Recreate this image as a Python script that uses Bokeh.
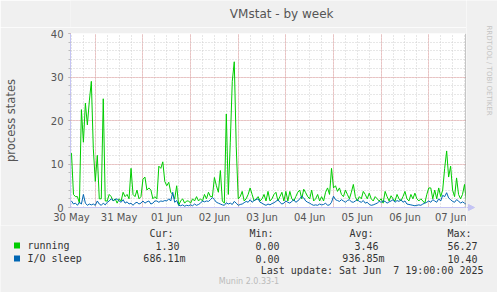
import math
from bokeh.plotting import figure
from bokeh.layouts import column, row
from bokeh.models import Range1d, FixedTicker, Span
from bokeh.core.properties import value
from bokeh.embed import file_html
from bokeh.resources import INLINE

# ---- data (hourly samples, hour 0 = 30 May label position) ----
hours = list(range(200))
running = [
    12.5, 3.0, 2.5, 2.5, 1.0, 22.5, 15.0, 24.0, 19.0, 24.5,
    29.0, 13.5, 6.0, 12.0, 2.0, 2.0, 25.0, 1.5, 1.5, 3.0,
    2.5, 1.5, 2.0, 1.0, 2.0, 1.5, 3.5, 2.5, 3.0, 2.0,
    9.0, 3.0, 2.5, 4.0, 2.0, 2.5, 6.5, 7.0, 4.0, 4.5,
    4.0, 2.0, 2.5, 2.0, 9.5, 9.0, 10.5, 6.0, 5.0, 5.8,
    3.5, 3.0, 2.0, 5.0, 0.5, 1.5, 2.0, 1.0, 1.5, 1.5,
    1.0, 2.0, 1.5, 2.5, 1.5, 2.0, 1.5, 3.0, 2.0, 3.5,
    2.5, 2.5, 6.9, 5.0, 3.5, 8.5, 1.5, 1.0, 21.5, 3.0,
    15.0, 29.0, 33.5, 14.0, 2.0, 2.5, 3.7, 1.5, 2.0, 3.0,
    4.5, 3.0, 1.5, 2.0, 2.5, 1.5, 2.0, 3.0, 1.5, 3.7,
    1.5, 2.0, 3.0, 3.5, 1.5, 2.5, 3.5, 1.5, 3.7, 1.5,
    3.7, 2.0, 1.5, 2.5, 3.5, 4.0, 2.0, 4.2, 3.4, 2.5,
    2.0, 4.0, 1.5, 2.0, 3.0, 1.5, 2.5, 1.5, 3.5, 4.5,
    3.0, 9.0, 4.5, 5.0, 3.7, 4.5, 3.0, 2.5, 4.0, 3.0,
    2.0, 3.5, 5.3, 2.5, 1.5, 2.5, 2.0, 3.7, 3.0, 2.0,
    3.3, 2.0, 1.5, 2.5, 2.0, 1.5, 2.0, 1.0, 3.7, 2.5,
    1.5, 2.7, 2.0, 1.5, 3.0, 2.0, 1.5, 2.5, 3.7, 2.0,
    1.5, 3.0, 2.0, 3.3, 2.0, 1.5, 2.0, 1.5, 1.0, 3.0,
    4.5, 4.5, 2.0, 4.0, 2.0, 4.5, 2.5, 4.0, 9.0, 13.0,
    7.0, 9.5, 4.0, 2.5, 6.8, 3.0, 2.0, 3.0, 5.3, 1.3,
]
io_sleep = [
    1.5, 0.8, 1.0, 0.5, 1.2, 0.8, 3.0, 1.0, 0.5, 0.8,
    0.6, 0.8, 0.5, 1.5, 0.8, 0.5, 1.0, 0.6, 1.2, 1.5,
    2.0, 1.6, 1.8, 2.0, 1.5, 1.2, 1.8, 1.0, 1.3, 0.8,
    1.0, 0.5, 1.0, 1.2, 0.8, 1.0, 1.5, 1.0, 1.3, 1.5,
    0.8, 1.0, 1.5, 1.5, 1.2, 1.5, 1.4, 1.6, 1.5, 2.0,
    1.5, 3.5, 1.2, 1.6, 0.5, 0.4, 0.6, 0.3, 0.5, 0.4,
    0.6, 0.4, 0.8, 0.5, 0.7, 1.0, 1.5, 1.3, 1.5, 1.4,
    1.8, 2.3, 1.8, 1.2, 1.0, 0.8, 0.6, 0.5, 1.1, 0.8,
    1.0, 0.7, 1.4, 1.0, 0.5, 0.7, 0.8, 1.1, 1.4, 1.2,
    1.8, 1.2, 1.6, 1.8, 2.0, 1.2, 1.0, 0.7, 0.5, 0.8,
    0.6, 0.9, 1.1, 1.4, 1.8, 1.2, 0.8, 1.0, 1.5, 1.2,
    1.0, 1.4, 1.8, 1.2, 1.5, 2.0, 2.6, 2.2, 1.5, 1.2,
    1.0, 0.7, 0.5, 0.6, 0.5, 0.8, 0.6, 0.7, 1.0, 0.5,
    0.6, 1.2, 2.6, 1.8, 1.6, 1.4, 1.8, 1.5, 1.2, 1.6,
    1.8, 1.3, 1.2, 1.5, 1.8, 1.4, 1.2, 1.6, 1.0, 1.2,
    0.7, 0.5, 0.6, 0.8, 1.0, 1.4, 1.2, 1.5, 1.4, 1.0,
    1.3, 1.5, 1.8, 1.2, 1.6, 1.4, 1.8, 1.2, 1.5, 0.8,
    0.7, 0.6, 0.5, 0.4, 0.5, 0.6, 0.5, 0.8, 1.0, 1.2,
    1.5, 1.2, 1.8, 1.5, 1.2, 2.0, 1.5, 2.8, 2.5, 3.4,
    2.2, 1.8, 1.4, 1.2, 1.8, 1.5, 1.0, 1.3, 1.0, 0.7,
]
day_labels = ["30 May", "31 May", "01 Jun", "02 Jun", "03 Jun",
              "04 Jun", "05 Jun", "06 Jun", "07 Jun"]
y_ticks = [0, 10, 20, 30, 40]
series_names = ["running", "I/O sleep"]
series_colors = ["#00CC00", "#0066B3"]
cur_vals = ["1.30", "686.11m"]
min_vals = ["0.00", "0.00"]
avg_vals = ["3.46", "936.85m"]
max_vals = ["56.27", "10.40"]
last_update = "Last update: Sat Jun \u00a07 19:00:00 2025"
title_text = "VMstat - by week"
y_title = "process states"
side_text = "RRDTOOL / TOBI OETIKER"
footer = "Munin 2.0.33-1"

# ---- layout ----
W = 497
BG = "#F0F0F0"
AXIS_COLOR = "#C4C4F4"
TITLE_H = 27
FL, FR = 67, 466
MAIN_TOP, MAIN_FRAME_H, MAIN_BOTTOM = 6, 174, 18
MAIN_H = MAIN_TOP + MAIN_FRAME_H + MAIN_BOTTOM
UPPER_H = TITLE_H + MAIN_H
FRAME_BOTTOM = TITLE_H + MAIN_TOP + MAIN_FRAME_H  # canvas y of the zero line
LEG_H = 292 - UPPER_H
LEG_Y0 = UPPER_H  # canvas y where legend strip starts


def strip(x0, width, y0, height):
    f = figure(width=width, height=height, x_range=Range1d(x0, x0 + width),
               y_range=Range1d(y0 + height, y0),
               output_backend="svg", toolbar_location=None,
               x_axis_location=None, y_axis_location=None, min_border=0)
    f.border_fill_color = BG
    f.background_fill_color = BG
    f.outline_line_color = None
    f.xgrid.visible = False
    f.ygrid.visible = False
    return f


def txt(f, x, y, text, align="left", size="10px", font="DejaVu Sans Mono",
        color="#333333", angle=0.0):
    f.text(x=[x], y=[y], text=[text], text_align=align, text_baseline="middle",
           text_font=value(font), text_font_size=value(size), text_color=color,
           angle=angle)


# title strip (canvas x 0..466, y 0..27)
top = strip(0, FR, 0, TITLE_H)
txt(top, 248.5, 13, title_text, align="center", size="12px", font="DejaVu Sans", color="#555555")

# main plot (canvas x 0..466, y 27..225)
p = figure(width=FR, height=MAIN_H, x_range=Range1d(-0.5, 199.0), y_range=Range1d(0, 40),
           output_backend="svg", toolbar_location=None,
           min_border_left=FL, min_border_right=0,
           min_border_top=MAIN_TOP, min_border_bottom=MAIN_BOTTOM)
p.border_fill_color = BG
p.background_fill_color = "#FFFFFF"
p.outline_line_color = None

p.xgrid.ticker = FixedTicker(ticks=[12 + 24 * k for k in range(9)],
                             minor_ticks=[6 * k for k in range(34)])
p.ygrid.ticker = FixedTicker(ticks=y_ticks, minor_ticks=list(range(0, 41, 2)))
for g in (p.xgrid, p.ygrid):
    g.grid_line_color = "#E4A0A0"
    g.grid_line_dash = "1 1"
    g.grid_line_width = 1
    g.minor_grid_line_color = "#CFCFCF"
    g.minor_grid_line_dash = "1 2"

p.xaxis.ticker = FixedTicker(ticks=[24 * k for k in range(len(day_labels))])
p.xaxis.major_label_overrides = {24 * k: lab for k, lab in enumerate(day_labels)}
p.yaxis.ticker = FixedTicker(ticks=y_ticks, minor_ticks=list(range(0, 41, 2)))
for ax in (p.xaxis[0], p.yaxis[0]):
    ax.axis_line_color = AXIS_COLOR
    ax.major_label_text_font = "DejaVu Sans"
    ax.major_label_text_font_size = "10px"
    ax.major_label_text_color = "#555555"
p.xaxis.major_tick_line_color = None
p.xaxis.minor_tick_line_color = None
p.xaxis.major_tick_out = 0
p.xaxis.major_label_standoff = 4
p.yaxis.major_tick_line_color = "#E4A0A0"
p.yaxis.major_tick_in = 0
p.yaxis.major_tick_out = 2
p.yaxis.minor_tick_line_color = "#BBBBBB"
p.yaxis.minor_tick_in = 0
p.yaxis.minor_tick_out = 2
p.yaxis.major_label_standoff = 5
p.yaxis.axis_label = y_title
p.yaxis.axis_label_text_font = "DejaVu Sans"
p.yaxis.axis_label_text_font_size = "11.5px"
p.yaxis.axis_label_text_font_style = "normal"
p.yaxis.axis_label_text_color = "#555555"
p.yaxis.axis_label_standoff = 30

p.line(hours, running, line_color=series_colors[0], line_width=1)
p.line(hours, io_sleep, line_color=series_colors[1], line_width=1)
p.add_layout(Span(location=198.75, dimension="height", line_color="#8C8C8C", line_width=1))

# right strip (canvas x 466..497, y 0..225): side credit and x-axis arrow head
right = strip(FR, W - FR, 0, UPPER_H)
txt(right, 488, 25, side_text, align="left", size="7px", font="DejaVu Sans",
    color="#C4C4C4", angle=-math.pi / 2)
right.line(x=[FR, FR + 3], y=[FRAME_BOTTOM, FRAME_BOTTOM], line_color=AXIS_COLOR, line_width=1)
right.patch(x=[FR + 2, FR + 8, FR + 2], y=[FRAME_BOTTOM - 3, FRAME_BOTTOM, FRAME_BOTTOM + 3],
            fill_color=AXIS_COLOR, line_color=AXIS_COLOR)

# legend strip (canvas x 0..497, y 225..292)
leg = strip(0, W, LEG_Y0, LEG_H)
for lx, lt in ((149, "Cur:"), (249, "Min:"), (349, "Avg:"), (447, "Max:")):
    txt(leg, lx, 233, lt)
row_y = [245, 258]
for i in range(2):
    ry = row_y[i]
    leg.rect(x=[16.5], y=[ry], width=6, height=6, fill_color=series_colors[i], line_color=None)
    txt(leg, 27, ry, series_names[i])
    c = cur_vals[i]
    txt(leg, 185 if c.endswith("m") else 179, ry, c, align="right")
    txt(leg, 279, ry, min_vals[i], align="right")
    a = avg_vals[i]
    txt(leg, 384 if a.endswith("m") else 378, ry, a, align="right")
    txt(leg, 477, ry, max_vals[i], align="right")
txt(leg, 483, 270, last_update, align="right")
txt(leg, 248.5, 281, footer, align="center", size="8px", font="DejaVu Sans", color="#BBBBBB")

layout = column(row(column(top, p, spacing=0), right, spacing=0), leg, spacing=0)
open("out.html", "w").write(file_html(layout, INLINE))
